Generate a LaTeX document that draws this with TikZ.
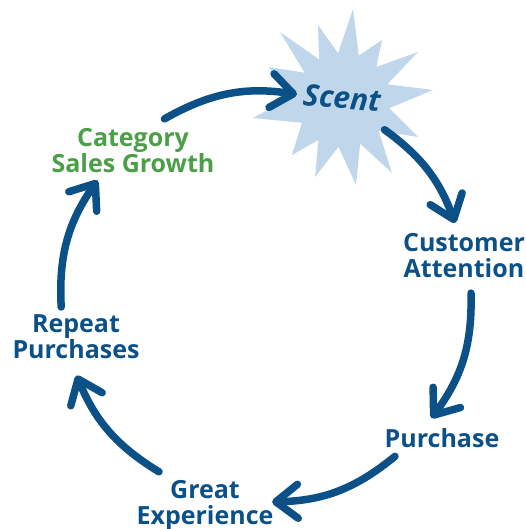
\documentclass[tikz,border=0pt]{standalone}
\usepackage{fontspec}
\setmainfont{Open Sans}
\usetikzlibrary{arrows.meta}

\definecolor{cycleblue}{HTML}{0B5087}
\definecolor{cyclegreen}{HTML}{4B9F47}
\definecolor{starblue}{HTML}{C0D6EA}

\begin{document}
\begin{tikzpicture}[x=1pt,y=-1pt,
    steplabel/.style={font=\bfseries\fontsize{25}{26}\selectfont, text=cycleblue, align=center, inner sep=0pt},
    cyclearrow/.style={draw=cycleblue, line width=7.5pt, line cap=round,
        -{Straight Barb[round, length=22pt, width=34pt]}}]
    \useasboundingbox (0,0) rectangle (526,529);

    % starburst behind Scent
    \fill[starblue] (353,9) -- (358.8,55.7) -- (382,40) -- (376.4,66.9) -- (418,52)
        -- (387.3,84.3) -- (433,90) -- (389.3,108.2) -- (418,137) -- (378.5,130.8)
        -- (392,173) -- (360.2,143.7) -- (356,185) -- (338.5,146.8) -- (315,177)
        -- (318.5,140.1) -- (292,155) -- (301.9,122.8) -- (253,118) -- (296.3,94.7)
        -- (268,67) -- (304.7,72.7) -- (280,32) -- (319.1,59.5) -- (318,25)
        -- (338.1,53.2) -- cycle;

    % the steps
    \node[steplabel, rotate=-5, font=\bfseries\itshape\fontsize{30}{30}\selectfont] (scent) at (342,98) {Scent};
    \node[steplabel] (attention) at (464,256) {Customer\\Attention};
    \node[steplabel] (purchase) at (442,438.5) {Purchase};
    \node[steplabel] (experience) at (205,505) {Great\\Experience};
    \node[steplabel] (repeat) at (76,336.5) {Repeat\\Purchases};
    \node[steplabel, text=cyclegreen] (growth) at (133,151) {Category\\Sales Growth};

    % arrow ends
    \coordinate (s1) at (164.4,118.9);
    \coordinate (e1) at (297,94.4);
    \coordinate (s2) at (384.5,129.7);
    \coordinate (e2) at (455,223);
    \coordinate (s3) at (471,293.1);
    \coordinate (e3) at (431.4,418.1);
    \coordinate (s4) at (395,456.3);
    \coordinate (e4) at (272.1,501.9);
    \coordinate (s5) at (159,471.8);
    \coordinate (e5) at (76.6,375.5);
    \coordinate (s6) at (61.2,307);
    \coordinate (e6) at (97.5,180.4);

    % the cycle
    \draw[cyclearrow] (s1) to[bend left=19] (e1);
    \draw[cyclearrow] (s2) to[bend left=17] (e2);
    \draw[cyclearrow] (s3) to[bend left=19] (e3);
    \draw[cyclearrow] (s4) to[bend left=19] (e4);
    \draw[cyclearrow] (s5) to[bend left=18] (e5);
    \draw[cyclearrow] (s6) to[bend left=19] (e6);
\end{tikzpicture}
\end{document}
